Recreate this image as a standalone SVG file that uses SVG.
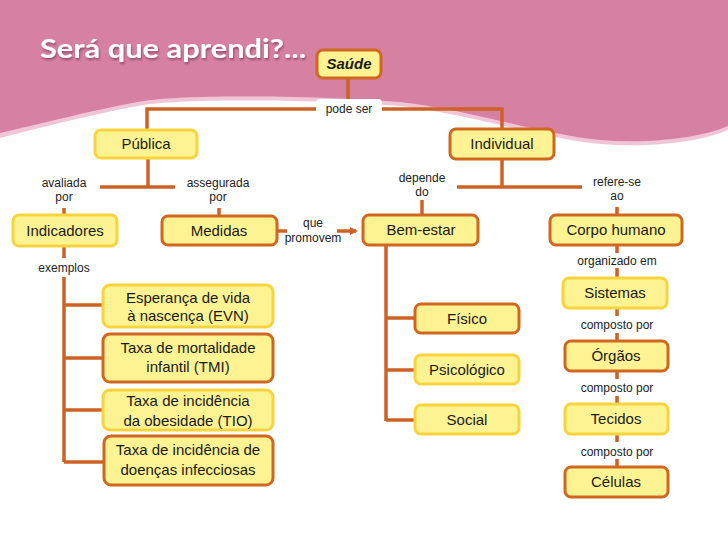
<svg xmlns="http://www.w3.org/2000/svg" width="728" height="546" viewBox="0 0 728 546">
<defs>
<style>
.n{fill:#fdf393;stroke-width:3}
.o{stroke:#d0661f}
.y{stroke:#f7d43c}
.t{font-family:"Liberation Sans",Arial,sans-serif;font-size:15px;fill:#1a1a1a;text-anchor:middle}
.l{font-family:"Liberation Sans",Arial,sans-serif;font-size:12px;fill:#222;text-anchor:middle}
.c{fill:none;stroke:#cc6224;stroke-width:3.5}
</style>
<filter id="sh" x="-5%" y="-20%" width="110%" height="150%">
<feDropShadow dx="1" dy="2" stdDeviation="1.2" flood-color="#6a2a45" flood-opacity="0.6"/>
</filter>
<marker id="ar" markerWidth="8" markerHeight="8" refX="6" refY="4" orient="auto" markerUnits="userSpaceOnUse">
<path d="M0,0 L8,4 L0,8 Z" fill="#cc6224"/>
</marker>
</defs>
<rect width="728" height="546" fill="#ffffff"/>
<path d="M0,0 H728 V130 C700,142 650,148 600,144 C540,138 470,114 400,106 C330,100 200,98 150,104 C100,112 40,128 0,138 Z" fill="#f0c6d6"/>
<path d="M0,0 H728 V126 C700,138 650,144 600,140 C540,134 470,110 400,102 C330,96 200,94 150,100 C100,108 40,124 0,133 Z" fill="#d781a2"/>
<text x="40" y="58" font-family="Lato,'Open Sans',sans-serif" font-weight="bold" font-size="27" fill="#ffffff" filter="url(#sh)" textLength="266" lengthAdjust="spacingAndGlyphs">Será que aprendi?...</text>

<g id="connectors">
<path class="c" d="M348,78 V100"/>
<path class="c" d="M316,109 H147 V130 M382,109 H502 V129"/>
<path class="c" d="M148,158 V187 M100,187 H175"/>
<path class="c" d="M64,208 V215 M219,208 V216"/>
<path class="c" d="M502,159 V187 M457,187 H582"/>
<path class="c" d="M422,200 V215 M617,207 V215"/>
<path class="c" d="M277,231 H287"/>
<path class="c" d="M337,231 H356" marker-end="url(#ar)"/>
<path class="c" d="M64,246 V258 M64,277 V462 M64,305 H103 M64,358 H103 M64,410 H103 M64,462 H104"/>
<path class="c" d="M386,245 V421 M386,318 H415 M386,370 H415 M386,420 H415"/>
<path class="c" d="M617,245 V253 M617,268 V278 M617,308 V316 M617,333 V341 M617,371 V379 M617,396 V404 M617,434 V442 M617,459 V467"/>
<rect x="316" y="99" width="66" height="19" rx="4" fill="#ffffff"/>
<text class="l" x="349" y="113" font-size="11">pode ser</text>
<text class="l" x="64" y="187">avaliada</text>
<text class="l" x="64" y="201">por</text>
<text class="l" x="218" y="187">assegurada</text>
<text class="l" x="218" y="201">por</text>
<text class="l" x="422" y="182">depende</text>
<text class="l" x="422" y="196">do</text>
<text class="l" x="617" y="186">refere-se</text>
<text class="l" x="617" y="200">ao</text>
<text class="l" x="313" y="227">que</text>
<text class="l" x="313" y="242">promovem</text>
<text class="l" x="64" y="272">exemplos</text>
<text class="l" x="617" y="265">organizado em</text>
<text class="l" x="617" y="329">composto por</text>
<text class="l" x="617" y="392">composto por</text>
<text class="l" x="617" y="456">composto por</text>
</g>

<g id="saude"><rect class="n o" x="317" y="50" width="64" height="28" rx="6"/><text class="t" x="349" y="69" font-size="13" font-weight="bold" font-style="italic">Saúde</text></g>
<g id="publica"><rect class="n y" x="95" y="130" width="102" height="28" rx="6"/><text class="t" x="146" y="149">Pública</text></g>
<g id="individual"><rect class="n o" x="450" y="129" width="104" height="30" rx="6"/><text class="t" x="502" y="149">Individual</text></g>
<g id="indicadores"><rect class="n y" x="13" y="215" width="104" height="31" rx="6"/><text class="t" x="65" y="236">Indicadores</text></g>
<g id="medidas"><rect class="n o" x="162" y="216" width="115" height="29" rx="6"/><text class="t" x="219" y="236">Medidas</text></g>
<g id="bemestar"><rect class="n o" x="363" y="215" width="115" height="30" rx="6"/><text class="t" x="421" y="235">Bem-estar</text></g>
<g id="corpo"><rect class="n o" x="550" y="215" width="132" height="30" rx="6"/><text class="t" x="616" y="235">Corpo humano</text></g>
<g id="evn"><rect class="n y" x="103" y="285" width="170" height="42" rx="7"/><text class="t" x="188" y="303">Esperança de vida</text><text class="t" x="188" y="321">à nascença (EVN)</text></g>
<g id="tmi"><rect class="n o" x="103" y="334" width="170" height="48" rx="7"/><text class="t" x="188" y="353">Taxa de mortalidade</text><text class="t" x="188" y="372">infantil (TMI)</text></g>
<g id="tio"><rect class="n y" x="103" y="390" width="170" height="40" rx="7"/><text class="t" x="188" y="406">Taxa de incidência</text><text class="t" x="188" y="426">da obesidade (TIO)</text></g>
<g id="doencas"><rect class="n o" x="104" y="436" width="169" height="49" rx="7"/><text class="t" x="188" y="455">Taxa de incidência de</text><text class="t" x="188" y="475">doenças infecciosas</text></g>
<g id="fisico"><rect class="n o" x="415" y="304" width="104" height="29" rx="6"/><text class="t" x="467" y="324">Físico</text></g>
<g id="psicologico"><rect class="n y" x="415" y="355" width="104" height="29" rx="6"/><text class="t" x="467" y="375">Psicológico</text></g>
<g id="social"><rect class="n y" x="415" y="405" width="104" height="29" rx="6"/><text class="t" x="467" y="425">Social</text></g>
<g id="sistemas"><rect class="n y" x="563" y="278" width="104" height="30" rx="6"/><text class="t" x="615" y="298">Sistemas</text></g>
<g id="orgaos"><rect class="n o" x="565" y="341" width="103" height="30" rx="6"/><text class="t" x="616" y="361">Órgãos</text></g>
<g id="tecidos"><rect class="n y" x="565" y="404" width="103" height="30" rx="6"/><text class="t" x="616" y="424">Tecidos</text></g>
<g id="celulas"><rect class="n o" x="565" y="467" width="103" height="30" rx="6"/><text class="t" x="616" y="487">Células</text></g>
</svg>
